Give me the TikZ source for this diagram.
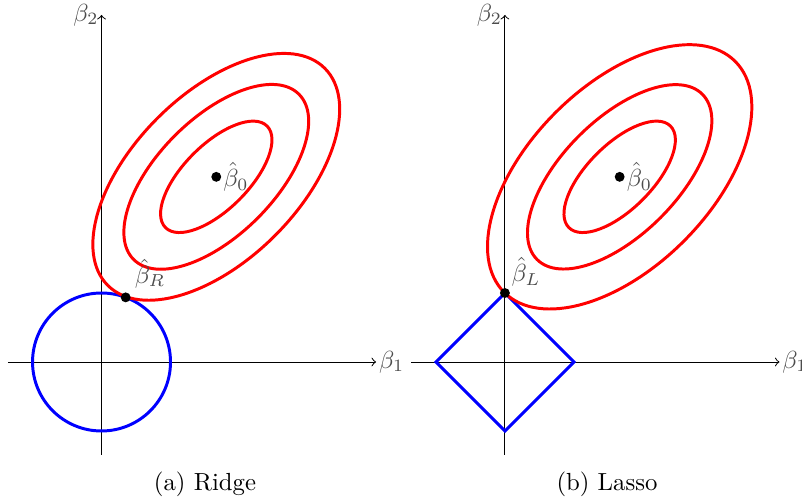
\documentclass[tikz,border=0pt]{standalone}
\usepackage{amsmath,amssymb}
\usepackage{tikz}

\begin{document}
\begin{tikzpicture}[
  axis/.style={->},
  contour/.style={very thick, red},
  penalty/.style={very thick, blue},
  dot/.style={circle, fill=black, inner sep=0pt, minimum size=4pt},
  lbl/.style={inner sep=1pt, text=black!70},
]
  \useasboundingbox (-1.442,-2.017) rectangle (9.950,5.142);

  % (a) ridge
  \coordinate (Lx0) at (-1.33,0);
  \coordinate (Lx1) at (3.9,0);
  \coordinate (Ly0) at (0,-1.32);
  \coordinate (Ly1) at (0,4.93);
  \draw[axis] (Lx0) -- (Lx1);
  \draw[axis] (Ly0) -- (Ly1);
  \node[right, lbl] (Lb1) at (Lx1) {$\beta_1$};
  \node[left, lbl] (Lb2) at (Ly1) {$\beta_2$};

  \draw[penalty] (0,0) circle [radius=0.98];

  \coordinate (Lc) at (1.63,2.63);
  \draw[contour, rotate around={45:(Lc)}] (Lc) ellipse [x radius=1.02, y radius=0.46];
  \draw[contour, rotate around={45:(Lc)}] (Lc) ellipse [x radius=1.66, y radius=0.83];
  \draw[contour, rotate around={45:(Lc)}] (Lc) ellipse [x radius=2.18, y radius=1.18];

  \node[dot, label={[lbl, inner sep=0.5pt]right:$\hat{\beta}_0$}] (Lhat0) at (Lc) {};
  \node[dot, label={[lbl, inner sep=2pt]above right:$\hat{\beta}_R$}] (LhatR) at (69.5:0.98) {};

  \node[anchor=base] (Lcap) at (1.47,-1.82) {(a) Ridge};

  % (b) lasso
  \begin{scope}[shift={(5.73,0)}]
    \coordinate (Rx0) at (-1.33,0);
    \coordinate (Rx1) at (3.9,0);
    \coordinate (Ry0) at (0,-1.32);
    \coordinate (Ry1) at (0,4.93);
    \draw[axis] (Rx0) -- (Rx1);
    \draw[axis] (Ry0) -- (Ry1);
    \node[right, lbl] (Rb1) at (Rx1) {$\beta_1$};
    \node[left, lbl] (Rb2) at (Ry1) {$\beta_2$};

    \draw[penalty] (0.98,0) -- (0,0.98) -- (-0.98,0) -- (0,-0.98) -- cycle;

    \coordinate (Rc) at (1.63,2.63);
    \draw[contour, rotate around={45:(Rc)}] (Rc) ellipse [x radius=1.02, y radius=0.46];
    \draw[contour, rotate around={45:(Rc)}] (Rc) ellipse [x radius=1.66, y radius=0.82];
    \draw[contour, rotate around={45:(Rc)}] (Rc) ellipse [x radius=2.32, y radius=1.29];

    \node[dot, label={[lbl, inner sep=0.5pt]right:$\hat{\beta}_0$}] (Rhat0) at (Rc) {};
    \node[dot, label={[lbl, inner sep=1pt]above right:$\hat{\beta}_L$}] (RhatL) at (0,0.98) {};

    \node[anchor=base] (Rcap) at (1.45,-1.82) {(b) Lasso};
  \end{scope}
\end{tikzpicture}
\end{document}
